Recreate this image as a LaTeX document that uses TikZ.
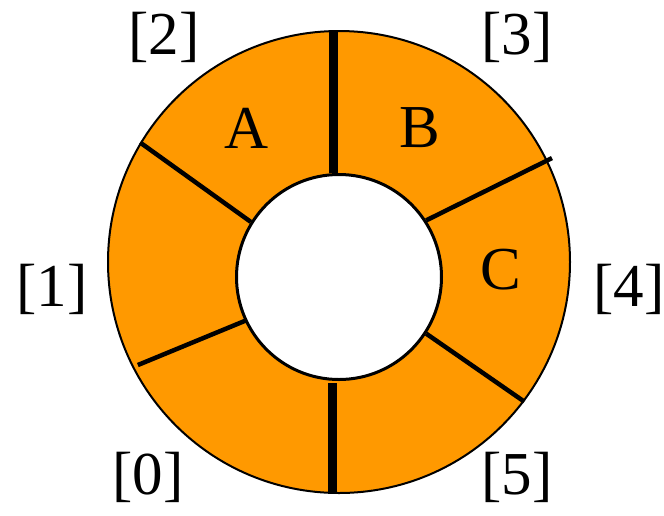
\documentclass[tikz,border=0pt]{standalone}
\usepackage{fontspec}
\setmainfont{Liberation Serif}
\begin{document}
\begin{tikzpicture}[x=1pt, y=-1pt, font=\fontsize{61}{72}\selectfont]
		\definecolor{ringorange}{RGB}{255, 153, 0}
		\tikzset{
			slot/.style={circle, inner sep=0pt},
			divider/.style={line width=4.5pt, black},
			bigdivider/.style={line width=9pt, black},
			label/.style={inner sep=0pt}
		}
		\useasboundingbox (0,0) rectangle (664,515);
		
		% 环形缓冲区
		\node[slot, fill=ringorange, draw, line width=2pt, minimum size=462pt] (outer) at (339,262) {};
		\node[slot, fill=white, draw, line width=3pt, minimum size=205pt] (inner) at (339,277) {};
		
		% 分隔线
		\draw[bigdivider] (outer.north) ++(-6,0) coordinate (t1) -- (t1 |- inner.north);
		\draw[bigdivider] (inner.south) ++(-7,2) coordinate (b1) -- (b1 |- outer.south);
		\draw[divider] (outer.149) -- (inner.148);
		\draw[divider, shorten <=-5pt] (outer.26) -- (inner.33);
		\draw[divider, shorten <=6pt, shorten >=-2pt] (outer.207) -- (inner.205);
		\draw[divider] (outer.323) -- (inner.327);
		
		% 下标与内容
		\node[label] (i0) at (148,477) {[0]};
		\node[label] (i1) at (52,289) {[1]};
		\node[label] (i2) at (164,37) {[2]};
		\node[label] (i3) at (517,37) {[3]};
		\node[label] (i4) at (629,289) {[4]};
		\node[label] (i5) at (517,477) {[5]};
		\node[label] (a) at (247,128) {A};
		\node[label] (b) at (420,128) {B};
		\node[label] (c) at (501,270) {C};
		\end{tikzpicture}
\end{document}
